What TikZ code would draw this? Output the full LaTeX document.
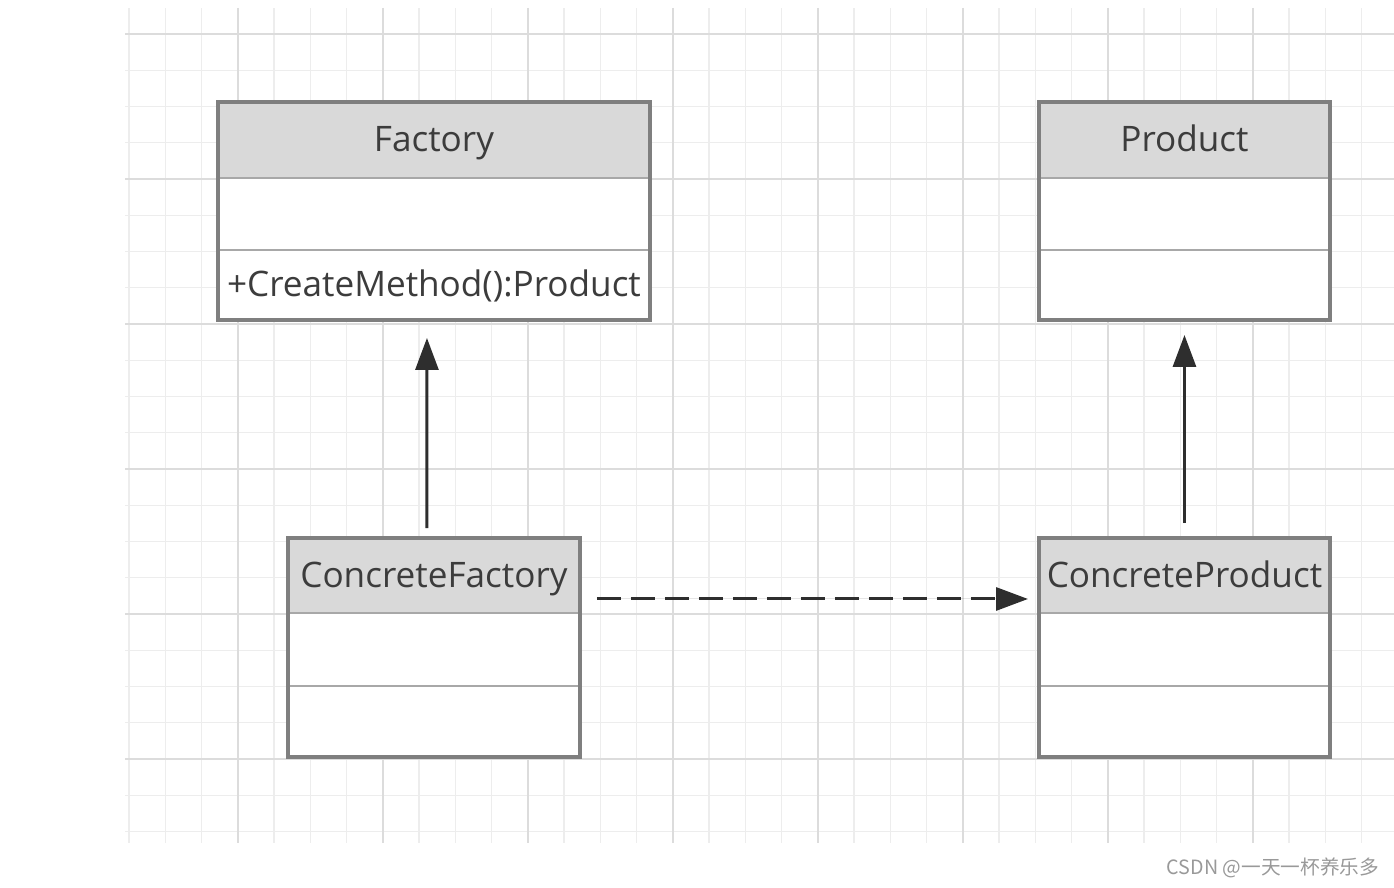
\documentclass[tikz,border=0pt]{standalone}
\usepackage{fontspec}
\setmainfont{Open Sans}
\newfontfamily\cjk{Noto Sans CJK SC}
\usetikzlibrary{arrows.meta}
\newdimen\px \px=0.02cm
\definecolor{gridminor}{HTML}{EDEDED}
\definecolor{gridmajor}{HTML}{DCDCDC}
\definecolor{boxline}{HTML}{7F7F7F}
\definecolor{sepline}{HTML}{A8A8A8}
\definecolor{headfill}{HTML}{D9D9D9}
\definecolor{txt}{HTML}{3C3C3C}
\definecolor{arwcol}{HTML}{2E2E2E}
\begin{document}
\begin{tikzpicture}[x=1\px,y=-1\px,
part/.style={draw=sepline,fill=white,line width=0.04cm,inner sep=0pt,outer sep=0pt,anchor=north west,
  text=txt,font=\fontsize{20}{24}\selectfont,text height=16pt,text depth=2.5pt},
head/.style={part,fill=headfill},
border/.style={draw=boxline,line width=0.07cm},
arw/.style={-{Triangle[length=0.64cm,width=0.46cm]},line width=0.06cm,draw=arwcol,fill=arwcol},
dep/.style={arw,dash pattern=on 0.48cm off 0.2cm}
]
\useasboundingbox (0,0) rectangle (1394,888);
%grid
\foreach \i in {0,...,34}{
  \draw[gridminor,line width=0.8pt] ({129+36.25*\i},8) -- (129+36.25*\i,843);
}
\foreach \j in {0,...,22}{
  \draw[gridminor,line width=0.8pt] (125,{34+36.25*\j}) -- (1394,34+36.25*\j);
}
\foreach \i in {0,...,7}{
  \draw[gridmajor,line width=0.9pt] ({238+145*\i},8) -- (238+145*\i,843);
}
\foreach \j in {0,...,5}{
  \draw[gridmajor,line width=0.9pt] (125,{34+145*\j}) -- (1394,34+145*\j);
}

% Factory
\node[head,minimum width=8.64cm,minimum height=1.52cm]at(218,102)(facH){Factory};
\node[part,minimum width=8.64cm,minimum height=1.44cm]at(218,178)(facA){};
\node[part,minimum width=8.64cm,minimum height=1.40cm]at(218,250)(facM){+CreateMethod():Product};
\draw[border](facH.north west)rectangle(facM.south east);

% Product
\node[head,minimum width=5.82cm,minimum height=1.52cm]at(1039,102)(prH){Product};
\node[part,minimum width=5.82cm,minimum height=1.44cm]at(1039,178)(prA){};
\node[part,minimum width=5.82cm,minimum height=1.40cm]at(1039,250)(prM){};
\draw[border](prH.north west)rectangle(prM.south east);

% ConcreteFactory
\node[head,minimum width=5.84cm,minimum height=1.50cm]at(288,538)(cfH){ConcreteFactory};
\node[part,minimum width=5.84cm,minimum height=1.46cm]at(288,613)(cfA){};
\node[part,minimum width=5.84cm,minimum height=1.42cm]at(288,686)(cfM){};
\draw[border](cfH.north west)rectangle(cfM.south east);

% ConcreteProduct
\node[head,minimum width=5.82cm,minimum height=1.50cm]at(1039,538)(cpH){ConcreteProduct};
\node[part,minimum width=5.82cm,minimum height=1.46cm]at(1039,613)(cpA){};
\node[part,minimum width=5.82cm,minimum height=1.42cm]at(1039,686)(cpM){};
\draw[border](cpH.north west)rectangle(cpM.south east);

\draw[arw,shorten <=0.2cm,shorten >=0.36cm]([xshift=-0.14cm]cfH.north)--([xshift=-0.14cm]facM.south);
\draw[arw,shorten <=0.3cm,shorten >=0.3cm](cpH.north)--(prM.south);
\draw[dep,shorten <=0.34cm,shorten >=0.22cm]([yshift=-0.47cm]cfH.east)--([yshift=-0.47cm]cpH.west);

\node[text=black!40,font=\cjk\fontsize{11.2}{13}\selectfont]at(1273,868)(mark){CSDN @一天一杯养乐多};
\end{tikzpicture}
\end{document}
